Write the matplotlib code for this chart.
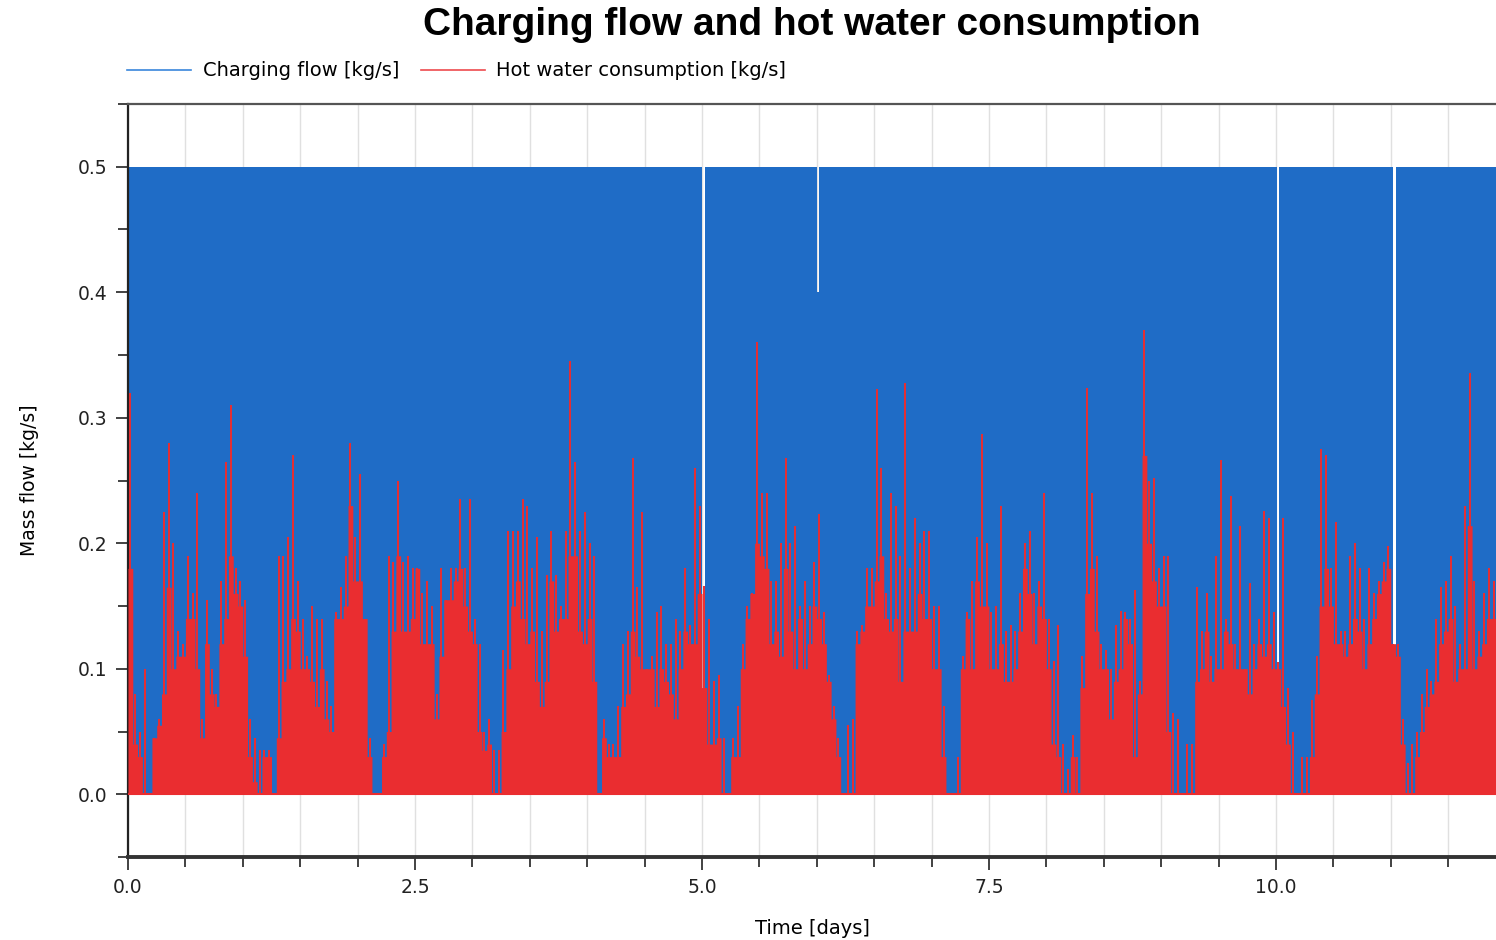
import matplotlib
matplotlib.use("Agg")
import matplotlib.pyplot as plt
from matplotlib.lines import Line2D
from matplotlib.ticker import MultipleLocator
import numpy as np

# hot water draw per hour [kg/s]: level held through the hour and the tallest tap spike
hw_base = [
    0.18, 0.04, 0.03, 0.0, 0.0, 0.045, 0.055, 0.08, 0.165, 0.10, 0.11, 0.11, 0.14, 0.14, 0.10, 0.045, 0.12, 0.08, 0.07, 0.12, 0.14, 0.19, 0.16, 0.15,
    0.11, 0.03, 0.01, 0.0, 0.03, 0.03, 0.0, 0.045, 0.09, 0.10, 0.14, 0.13, 0.10, 0.10, 0.09, 0.07, 0.10, 0.06, 0.05, 0.14, 0.14, 0.15, 0.23, 0.17,
    0.17, 0.14, 0.03, 0.0, 0.0, 0.03, 0.05, 0.13, 0.19, 0.13, 0.13, 0.14, 0.18, 0.12, 0.12, 0.12, 0.06, 0.11, 0.155, 0.155, 0.17, 0.18, 0.15, 0.13,
    0.12, 0.05, 0.035, 0.04, 0.0, 0.0, 0.05, 0.10, 0.15, 0.17, 0.14, 0.12, 0.13, 0.09, 0.07, 0.09, 0.17, 0.13, 0.14, 0.14, 0.19, 0.19, 0.13, 0.12,
    0.14, 0.09, 0.0, 0.045, 0.03, 0.03, 0.03, 0.07, 0.08, 0.13, 0.11, 0.10, 0.10, 0.10, 0.07, 0.10, 0.09, 0.08, 0.06, 0.10, 0.13, 0.12, 0.12, 0.16,
    0.085, 0.04, 0.04, 0.045, 0.0, 0.0, 0.03, 0.03, 0.10, 0.14, 0.16, 0.20, 0.19, 0.18, 0.12, 0.13, 0.11, 0.18, 0.13, 0.10, 0.14, 0.10, 0.12, 0.15,
    0.14, 0.12, 0.09, 0.06, 0.03, 0.0, 0.0, 0.0, 0.12, 0.13, 0.15, 0.15, 0.17, 0.19, 0.14, 0.13, 0.14, 0.09, 0.13, 0.13, 0.13, 0.16, 0.14, 0.14,
    0.10, 0.10, 0.03, 0.0, 0.0, 0.0, 0.10, 0.14, 0.10, 0.17, 0.15, 0.15, 0.10, 0.10, 0.12, 0.09, 0.09, 0.10, 0.13, 0.18, 0.16, 0.12, 0.15, 0.14,
    0.10, 0.04, 0.03, 0.0, 0.0, 0.03, 0.0, 0.085, 0.16, 0.18, 0.13, 0.10, 0.10, 0.06, 0.09, 0.10, 0.14, 0.12, 0.03, 0.08, 0.27, 0.20, 0.17, 0.15,
    0.15, 0.05, 0.0, 0.0, 0.0, 0.0, 0.0, 0.09, 0.10, 0.13, 0.09, 0.10, 0.10, 0.13, 0.12, 0.10, 0.10, 0.10, 0.08, 0.10, 0.12, 0.11, 0.12, 0.10,
    0.10, 0.07, 0.04, 0.0, 0.0, 0.0, 0.0, 0.03, 0.08, 0.15, 0.18, 0.15, 0.12, 0.12, 0.11, 0.12, 0.14, 0.13, 0.10, 0.12, 0.14, 0.16, 0.17, 0.18,
    0.12, 0.11, 0.04, 0.0, 0.0, 0.03, 0.05, 0.07, 0.08, 0.09, 0.12, 0.13, 0.14, 0.09, 0.10, 0.10, 0.214, 0.10, 0.11, 0.12, 0.14, 0.14,
]
hw_peak = [
    0.32, 0.08, 0.05, 0.10, 0.0, 0.045, 0.06, 0.225, 0.28, 0.20, 0.13, 0.12, 0.19, 0.16, 0.24, 0.06, 0.155, 0.10, 0.08, 0.17, 0.265, 0.31, 0.18, 0.17,
    0.155, 0.06, 0.045, 0.035, 0.035, 0.035, 0.0, 0.19, 0.19, 0.205, 0.27, 0.17, 0.14, 0.11, 0.15, 0.14, 0.14, 0.09, 0.07, 0.145, 0.165, 0.19, 0.28, 0.205,
    0.255, 0.14, 0.045, 0.0, 0.0, 0.04, 0.19, 0.185, 0.25, 0.185, 0.19, 0.18, 0.18, 0.16, 0.17, 0.15, 0.08, 0.18, 0.155, 0.18, 0.18, 0.235, 0.18, 0.235,
    0.14, 0.12, 0.05, 0.06, 0.035, 0.035, 0.115, 0.21, 0.21, 0.21, 0.235, 0.23, 0.18, 0.205, 0.13, 0.175, 0.21, 0.175, 0.15, 0.21, 0.345, 0.265, 0.21, 0.225,
    0.20, 0.19, 0.0, 0.06, 0.04, 0.04, 0.07, 0.12, 0.13, 0.268, 0.165, 0.225, 0.10, 0.11, 0.145, 0.15, 0.12, 0.12, 0.14, 0.13, 0.18, 0.135, 0.26, 0.23,
    0.166, 0.14, 0.09, 0.095, 0.045, 0.0, 0.045, 0.07, 0.12, 0.15, 0.16, 0.36, 0.24, 0.24, 0.17, 0.17, 0.20, 0.268, 0.20, 0.214, 0.15, 0.17, 0.15, 0.185,
    0.223, 0.145, 0.095, 0.07, 0.045, 0.0, 0.055, 0.06, 0.13, 0.135, 0.18, 0.18, 0.323, 0.26, 0.16, 0.24, 0.23, 0.19, 0.328, 0.18, 0.22, 0.20, 0.21, 0.21,
    0.15, 0.15, 0.07, 0.0, 0.0, 0.03, 0.11, 0.145, 0.17, 0.205, 0.287, 0.20, 0.145, 0.15, 0.23, 0.13, 0.135, 0.13, 0.16, 0.20, 0.21, 0.16, 0.17, 0.24,
    0.14, 0.106, 0.135, 0.04, 0.02, 0.047, 0.03, 0.11, 0.324, 0.24, 0.19, 0.12, 0.115, 0.10, 0.135, 0.146, 0.145, 0.14, 0.163, 0.09, 0.37, 0.25, 0.252, 0.18,
    0.19, 0.19, 0.065, 0.06, 0.0, 0.04, 0.04, 0.165, 0.13, 0.16, 0.11, 0.19, 0.266, 0.14, 0.238, 0.12, 0.214, 0.10, 0.168, 0.12, 0.14, 0.226, 0.22, 0.145,
    0.105, 0.22, 0.085, 0.05, 0.0, 0.03, 0.03, 0.075, 0.11, 0.275, 0.27, 0.18, 0.217, 0.13, 0.13, 0.19, 0.20, 0.18, 0.14, 0.18, 0.16, 0.17, 0.185, 0.198,
    0.12, 0.12, 0.06, 0.025, 0.04, 0.05, 0.08, 0.10, 0.09, 0.14, 0.165, 0.17, 0.19, 0.15, 0.12, 0.23, 0.336, 0.17, 0.13, 0.16, 0.18, 0.17,
]

# charging pump: nominal flow and the short interruptions (start [days], flow during stop)
charge_on = 0.5
stop_t = [5.002, 6.002, 10.01, 11.022]
stop_v = [0.0, 0.4, 0.0, 0.0]
stop_len = 0.02

BLUE = "#1f6cc6"
RED = "#ea2d30"

hours = np.arange(len(hw_base)) / 24.0
t_end = len(hw_base) / 24.0

# step series for the charging flow
ct, cv = [0.0], [charge_on]
for t, v in zip(stop_t, stop_v):
    ct += [t, t + stop_len]
    cv += [v, charge_on]
ct.append(t_end)
cv.append(charge_on)

fig = plt.figure(figsize=(14.96, 9.40), dpi=100)
ax = fig.add_axes([128 / 1496, 83 / 940, 1368 / 1496, 753 / 940])

ax.fill_between(ct, 0, cv, step="post", color=BLUE, lw=0, zorder=2)
ax.fill_between(np.append(hours, t_end), 0, np.append(hw_base, hw_base[-1]),
                step="post", color=RED, lw=0, zorder=3)
ax.vlines(hours + 0.5 / 24, 0, hw_peak, color=RED, lw=1.4, zorder=3)
ax.axhline(0, color=RED, lw=1.5, zorder=3)

ax.set_xlim(0, t_end)
ax.set_ylim(-0.05, 0.55)
ax.xaxis.set_major_locator(MultipleLocator(2.5))
ax.xaxis.set_minor_locator(MultipleLocator(0.5))
ax.yaxis.set_major_locator(MultipleLocator(0.1))
ax.yaxis.set_minor_locator(MultipleLocator(0.05))
ax.tick_params(axis="both", which="major", direction="out", length=9, width=1.2,
               color="#222222", labelsize=13.5, labelcolor="#222222")
ax.tick_params(axis="both", which="minor", direction="out", length=7, width=1.2, color="#222222")
ax.tick_params(axis="x", which="major", pad=6)
ax.tick_params(axis="y", which="major", pad=6)

ax.set_axisbelow(True)
ax.grid(axis="x", which="both", color="#e0e0e0", lw=1.0)

ax.spines["right"].set_visible(False)
ax.spines["top"].set_color("#555555")
ax.spines["top"].set_linewidth(1.6)
ax.spines["left"].set_color("#222222")
ax.spines["left"].set_linewidth(1.6)
ax.spines["bottom"].set_color("#333333")
ax.spines["bottom"].set_linewidth(2.8)

ax.set_xlabel("Time [days]", fontsize=14, labelpad=16)
ax.set_ylabel("Mass flow [kg/s]", fontsize=13.5, labelpad=28)
fig.suptitle("Charging flow and hot water consumption", x=(128 + 1496) / 2 / 1496, y=1 - 25 / 940,
             va="center", fontsize=28, fontweight="bold", family="Liberation Sans")

handles = [Line2D([], [], color="#3a86dc", lw=1.2), Line2D([], [], color="#ee4a4e", lw=1.2)]
fig.legend(handles, ["Charging flow [kg/s]", "Hot water consumption [kg/s]"],
           loc="center left", bbox_to_anchor=(127 / 1496, 1 - 71 / 940), ncol=2,
           frameon=False, fontsize=14, handlelength=3.3, handletextpad=0.6,
           columnspacing=1.1, borderpad=0, borderaxespad=0)

fig.savefig("out.png", dpi=100)
print("saved out.png")
